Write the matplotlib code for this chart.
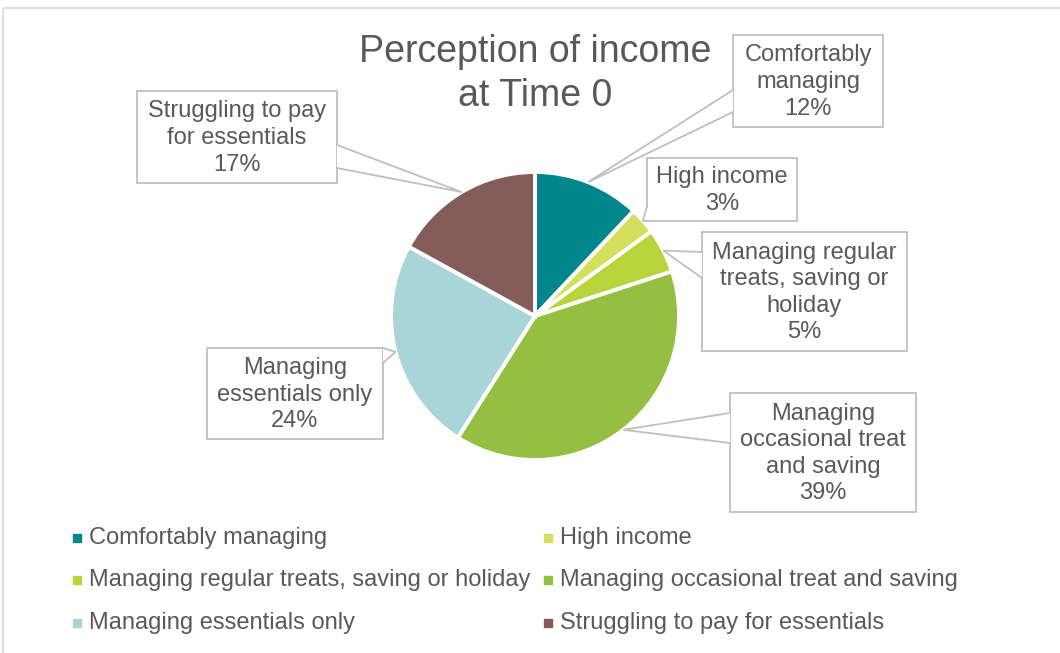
import numpy as np
import matplotlib.pyplot as plt
from matplotlib.patches import Rectangle, Polygon

plt.rcParams['font.family'] = ['Liberation Sans', 'DejaVu Sans']

categories = ['Comfortably managing', 'High income',
              'Managing regular treats, saving or holiday',
              'Managing occasional treat and saving',
              'Managing essentials only', 'Struggling to pay for essentials']
values = [12, 3, 5, 39, 24, 17]
callout_text = ['Comfortably\nmanaging', 'High income',
                'Managing regular\ntreats, saving or\nholiday',
                'Managing\noccasional treat\nand saving',
                'Managing\nessentials only',
                'Struggling to pay\nfor essentials']
colors = ['#00868B', '#D4DF5B', '#B8D43A', '#94BF40', '#A9D5D8', '#845C5A']

TXT = '#595959'
EDGE = '#BFBFBF'
W, H = 1060, 653
cx, cy, R = 535, 316, 144

# callout boxes (x0, y0, x1, y1) and the two base points of the pointer, in pixels
boxes = [(733, 35, 883, 127), (647, 158, 797, 221), (702, 232, 907, 351),
         (730, 393, 916, 512), (207, 348, 383, 439), (137, 91, 337, 183)]
bases = [((733, 90), (733, 112)), ((647, 206), (653, 221)),
         ((702, 252), (702, 278)), ((730, 413), (730, 443)),
         ((383, 348), (383, 363)), ((337, 145), (337, 168))]

fig = plt.figure(figsize=(W / 100, H / 100), dpi=100)
ax = fig.add_axes([0, 0, 1, 1])

# pie drawn with y pointing down: start at the top and go clockwise on screen
ax.pie(values, colors=colors, startangle=-90, counterclock=True,
       center=(cx, cy), radius=R,
       wedgeprops=dict(edgecolor='white', linewidth=2.8))

ax.set_xlim(0, W)
ax.set_ylim(H, 0)
ax.set_aspect('equal')
ax.axis('off')

# chart border
ax.add_patch(Rectangle((2.5, 8), W + 10, H + 10, fill=False, edgecolor='#D9D9D9',
                       linewidth=1.2, zorder=1))

ax.text(cx, 74, 'Perception of income\nat Time 0', ha='center', va='center',
        fontsize=27, color=TXT, linespacing=1.25)

total = sum(values)
cum = 0
for i, v in enumerate(values):
    a = np.deg2rad(360 * (cum + v / 2) / total)
    cum += v
    tip = (cx + 1.0 * R * np.sin(a), cy - 1.0 * R * np.cos(a))
    x0, y0, x1, y1 = boxes[i]
    ax.add_patch(Rectangle((x0, y0), x1 - x0, y1 - y0, facecolor='white',
                           edgecolor=EDGE, linewidth=1.3, zorder=4))
    b1, b2 = bases[i]
    ax.add_patch(Polygon([b1, tip, b2], closed=True, facecolor='white',
                         edgecolor='none', zorder=5))
    ax.plot([b1[0], tip[0], b2[0]], [b1[1], tip[1], b2[1]], color=EDGE,
            linewidth=1.3, zorder=6, solid_joinstyle='miter')
    ax.text((x0 + x1) / 2, (y0 + y1) / 2 + 1,
            f'{callout_text[i]}\n{values[i]}%', ha='center', va='center',
            fontsize=17, color=TXT, linespacing=1.27, zorder=7)

# legend
leg_x = [77, 548]
leg_y = [538, 580, 623]
for i, c in enumerate(categories):
    lx = leg_x[i % 2]
    ly = leg_y[i // 2]
    ax.plot(lx, ly, marker='s', markersize=5.5, color=colors[i], linestyle='none')
    ax.text(lx + 12, ly, c, ha='left', va='center', fontsize=17, color=TXT)

fig.savefig('out.png', dpi=100)
